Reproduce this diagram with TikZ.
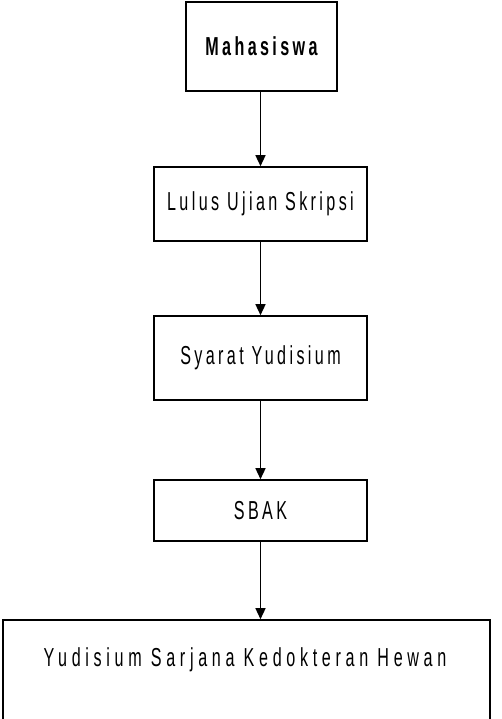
\documentclass[tikz,border=0pt]{standalone}
\usepackage{fontspec}
\setmainfont{Liberation Sans}[FakeStretch=0.62,LetterSpace=13]
\newfontfamily\widefont{Liberation Sans}[FakeStretch=0.62,LetterSpace=18]
\usetikzlibrary{arrows.meta}
\begin{document}
\begin{tikzpicture}[x=1pt,y=-1pt,
  box/.style={draw=black,line width=1.6pt,inner sep=0pt,font=\fontsize{26}{30}\selectfont},
  flow/.style={draw=black,line width=1.4pt,-{Triangle[length=11pt,width=10pt]}}]
\useasboundingbox (0,0) rectangle (502,719);
\node[box,minimum width=151pt,minimum height=89pt,font=\fontsize{26}{30}\selectfont\bfseries] (m) at (261.5,46.5) {Mahasiswa};
\node[box,minimum width=213pt,minimum height=74pt] (l) at (260.5,204) {Lulus Ujian Skripsi};
\node[box,minimum width=213pt,minimum height=84pt] (s) at (260.5,358) {Syarat Yudisium};
\node[box,minimum width=213pt,minimum height=61pt] (b) at (260.5,510.5) {SBAK};
\node[box,minimum width=487pt,minimum height=110pt] (y) at (246.5,675) {};
\node[font=\fontsize{26}{30}\selectfont\widefont,inner sep=0pt] (yt) at (245,660) {Yudisium Sarjana Kedokteran Hewan};
\draw[flow] (m.south -| l.north) -- (l.north);
\draw[flow] (l.south) -- (s.north);
\draw[flow] (s.south) -- (b.north);
\draw[flow] (b.south) -- (b.south |- y.north);
\end{tikzpicture}
\end{document}
